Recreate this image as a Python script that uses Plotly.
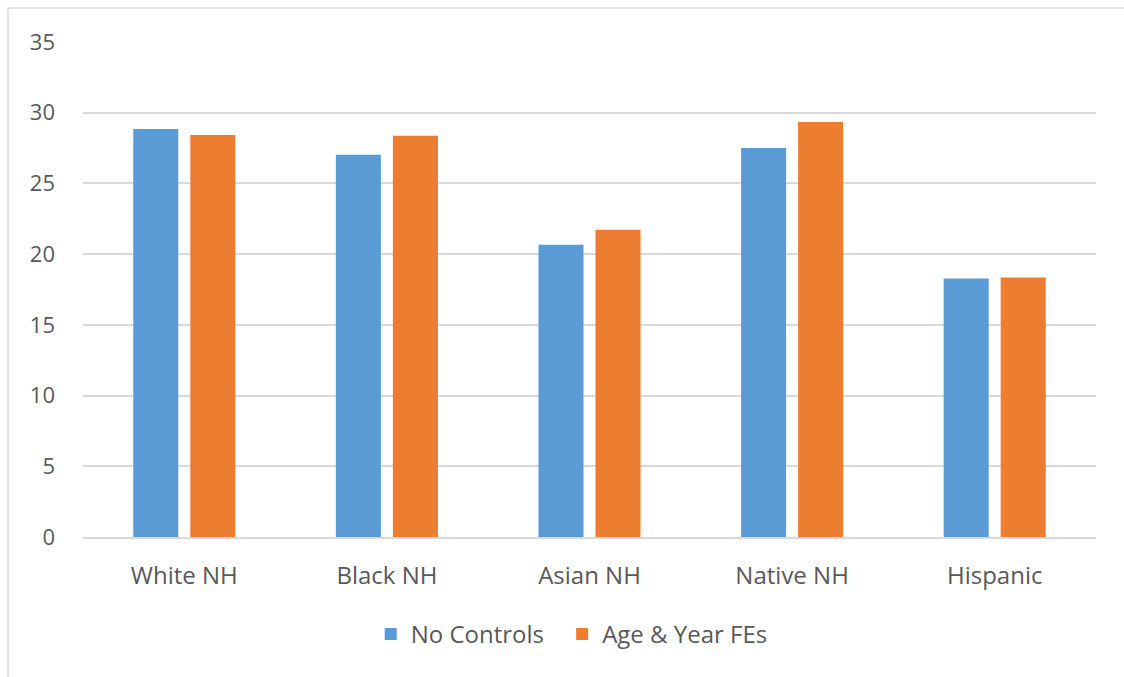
import plotly.graph_objects as go

categories = ["White NH", "Black NH", "Asian NH", "Native NH", "Hispanic"]
no_controls = [28.85, 27.03, 20.67, 27.51, 18.27]
age_year_fes = [28.43, 28.38, 21.73, 29.35, 18.34]
y_ticks = [0, 5, 10, 15, 20, 25, 30, 35]

BLUE = "#5B9BD5"
ORANGE = "#ED7D31"
GRID = "#D9D9D9"
TEXT = "#595959"
FONT = "Open Sans"

fig = go.Figure()
fig.add_trace(go.Bar(name="No Controls", x=categories, y=no_controls, legend="legend",
                     marker=dict(color=BLUE, line=dict(width=0))))
fig.add_trace(go.Bar(name="Age & Year FEs", x=categories, y=age_year_fes, legend="legend2",
                     marker=dict(color=ORANGE, line=dict(width=0))))

legend_style = dict(orientation="h", yanchor="middle", y=-0.197, xanchor="left",
                    font=dict(size=24, color=TEXT), itemwidth=30,
                    bgcolor="rgba(0,0,0,0)")

fig.update_layout(
    width=1124, height=677,
    margin=dict(l=83, r=28, t=42, b=140, autoexpand=False),
    paper_bgcolor="white", plot_bgcolor="white",
    barmode="group", bargap=0.437, bargroupgap=0.21,
    font=dict(family=FONT, size=24, color=TEXT),
    showlegend=True,
    legend=dict(legend_style, x=0.284),
    legend2=dict(legend_style, x=0.473),
    shapes=[dict(type="rect", xref="paper", yref="paper",
                 x0=-0.074, x1=1.2, y0=-0.5, y1=1.0687,
                 line=dict(color=GRID, width=1.5), fillcolor="rgba(0,0,0,0)",
                 layer="below")],
)
fig.update_xaxes(showgrid=False, showline=True, linecolor=GRID, linewidth=1.5,
                 ticks="", tickfont=dict(size=24, color=TEXT), ticklabelstandoff=16)
fig.update_yaxes(range=[0, 35], tickvals=y_ticks, showgrid=True, gridcolor=GRID,
                 gridwidth=1.5, zeroline=False, showline=False, ticks="",
                 tickfont=dict(size=22, color=TEXT), ticklabelstandoff=27)

fig.write_html("out.html")
